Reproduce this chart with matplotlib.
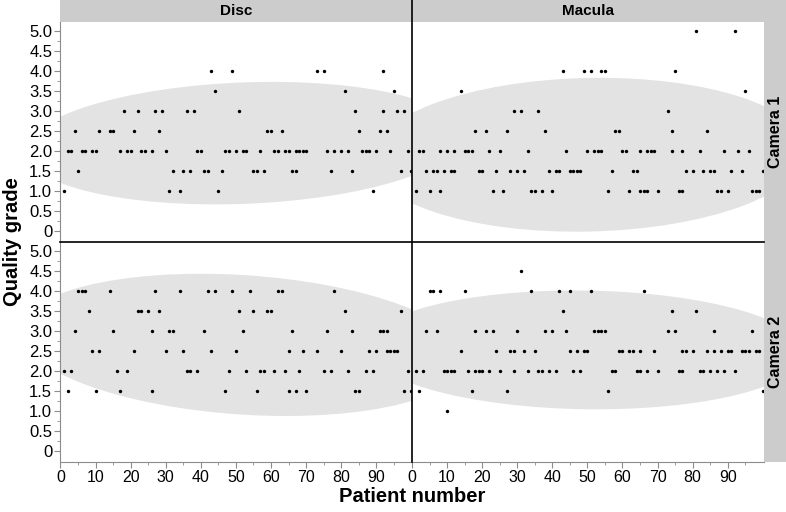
import numpy as np
import matplotlib.pyplot as plt
from matplotlib.patches import Ellipse
from matplotlib.lines import Line2D

plt.rcParams['font.family'] = ['Liberation Sans', 'DejaVu Sans']

# (patient number, quality grade)
disc_cam1 = [
    (43, 4.0), (49, 4.0), (73, 4.0), (75, 4.0), (92, 4.0),
    (44, 3.5), (81, 3.5), (95, 3.5),
    (18, 3.0), (22, 3.0), (27, 3.0), (29, 3.0), (36, 3.0), (38, 3.0), (51, 3.0),
    (84, 3.0), (92, 3.0), (96, 3.0), (98, 3.0),
    (4, 2.5), (11, 2.5), (14, 2.5), (15, 2.5), (21, 2.5), (28, 2.5), (59, 2.5),
    (60, 2.5), (63, 2.5), (85, 2.5), (91, 2.5), (93, 2.5),
    (2, 2.0), (3, 2.0), (6, 2.0), (7, 2.0), (9, 2.0), (10, 2.0), (17, 2.0), (19, 2.0),
    (20, 2.0), (23, 2.0), (24, 2.0), (26, 2.0), (30, 2.0), (39, 2.0), (40, 2.0),
    (47, 2.0), (48, 2.0), (50, 2.0), (52, 2.0), (53, 2.0), (57, 2.0), (61, 2.0),
    (62, 2.0), (64, 2.0), (65, 2.0), (67, 2.0), (68, 2.0), (69, 2.0), (70, 2.0),
    (76, 2.0), (78, 2.0), (80, 2.0), (82, 2.0), (86, 2.0), (87, 2.0), (88, 2.0),
    (90, 2.0), (94, 2.0), (99, 2.0),
    (5, 1.5), (32, 1.5), (35, 1.5), (37, 1.5), (41, 1.5), (42, 1.5), (46, 1.5),
    (55, 1.5), (56, 1.5), (58, 1.5), (66, 1.5), (67, 1.5), (77, 1.5), (83, 1.5),
    (97, 1.5), (100, 1.5),
    (1, 1.0), (31, 1.0), (34, 1.0), (45, 1.0), (89, 1.0),
]

macula_cam1 = [
    (81, 5.0), (92, 5.0),
    (43, 4.0), (49, 4.0), (51, 4.0), (54, 4.0), (55, 4.0), (75, 4.0),
    (14, 3.5), (95, 3.5),
    (29, 3.0), (31, 3.0), (36, 3.0), (73, 3.0),
    (18, 2.5), (21, 2.5), (27, 2.5), (38, 2.5), (58, 2.5), (59, 2.5), (74, 2.5), (84, 2.5),
    (2, 2.0), (3, 2.0), (8, 2.0), (10, 2.0), (12, 2.0), (15, 2.0), (16, 2.0), (17, 2.0),
    (22, 2.0), (25, 2.0), (33, 2.0), (44, 2.0), (50, 2.0), (52, 2.0), (53, 2.0),
    (54, 2.0), (60, 2.0), (61, 2.0), (65, 2.0), (67, 2.0), (68, 2.0), (69, 2.0),
    (74, 2.0), (77, 2.0), (82, 2.0), (89, 2.0), (93, 2.0), (96, 2.0),
    (4, 1.5), (6, 1.5), (7, 1.5), (9, 1.5), (11, 1.5), (12, 1.5), (19, 1.5), (20, 1.5),
    (24, 1.5), (28, 1.5), (30, 1.5), (32, 1.5), (39, 1.5), (41, 1.5), (42, 1.5),
    (45, 1.5), (46, 1.5), (47, 1.5), (48, 1.5), (57, 1.5), (63, 1.5), (64, 1.5),
    (78, 1.5), (80, 1.5), (83, 1.5), (85, 1.5), (86, 1.5), (91, 1.5), (94, 1.5), (100, 1.5),
    (1, 1.0), (5, 1.0), (8, 1.0), (23, 1.0), (26, 1.0), (34, 1.0), (35, 1.0), (37, 1.0),
    (40, 1.0), (56, 1.0), (62, 1.0), (65, 1.0), (66, 1.0), (67, 1.0), (70, 1.0),
    (76, 1.0), (77, 1.0), (87, 1.0), (88, 1.0), (90, 1.0), (97, 1.0), (98, 1.0), (99, 1.0),
]

disc_cam2 = [
    (5, 4.0), (6, 4.0), (7, 4.0), (14, 4.0), (27, 4.0), (34, 4.0), (42, 4.0), (44, 4.0),
    (49, 4.0), (54, 4.0), (62, 4.0), (63, 4.0), (78, 4.0),
    (8, 3.5), (22, 3.5), (23, 3.5), (25, 3.5), (28, 3.5), (51, 3.5), (55, 3.5),
    (59, 3.5), (60, 3.5), (81, 3.5), (97, 3.5),
    (4, 3.0), (15, 3.0), (26, 3.0), (31, 3.0), (32, 3.0), (41, 3.0), (52, 3.0),
    (66, 3.0), (76, 3.0), (83, 3.0), (91, 3.0), (92, 3.0), (93, 3.0),
    (9, 2.5), (11, 2.5), (21, 2.5), (30, 2.5), (35, 2.5), (43, 2.5), (50, 2.5),
    (65, 2.5), (69, 2.5), (73, 2.5), (80, 2.5), (88, 2.5), (90, 2.5), (93, 2.5),
    (94, 2.5), (95, 2.5), (96, 2.5),
    (1, 2.0), (3, 2.0), (16, 2.0), (19, 2.0), (36, 2.0), (37, 2.0), (39, 2.0), (48, 2.0),
    (53, 2.0), (57, 2.0), (58, 2.0), (61, 2.0), (64, 2.0), (68, 2.0), (75, 2.0),
    (77, 2.0), (82, 2.0), (87, 2.0), (89, 2.0), (99, 2.0),
    (2, 1.5), (10, 1.5), (17, 1.5), (26, 1.5), (47, 1.5), (56, 1.5), (65, 1.5),
    (67, 1.5), (70, 1.5), (84, 1.5), (85, 1.5), (98, 1.5), (100, 1.5),
]

macula_cam2 = [
    (31, 4.5),
    (5, 4.0), (6, 4.0), (8, 4.0), (15, 4.0), (34, 4.0), (42, 4.0), (45, 4.0), (51, 4.0), (66, 4.0),
    (43, 3.5), (74, 3.5), (81, 3.5),
    (4, 3.0), (7, 3.0), (18, 3.0), (21, 3.0), (23, 3.0), (30, 3.0), (38, 3.0), (40, 3.0),
    (44, 3.0), (52, 3.0), (53, 3.0), (54, 3.0), (55, 3.0), (73, 3.0), (75, 3.0),
    (86, 3.0), (97, 3.0),
    (14, 2.5), (24, 2.5), (28, 2.5), (29, 2.5), (32, 2.5), (35, 2.5), (45, 2.5),
    (47, 2.5), (49, 2.5), (50, 2.5), (59, 2.5), (60, 2.5), (62, 2.5), (63, 2.5),
    (65, 2.5), (69, 2.5), (77, 2.5), (78, 2.5), (80, 2.5), (84, 2.5), (86, 2.5),
    (88, 2.5), (90, 2.5), (91, 2.5), (94, 2.5), (95, 2.5), (96, 2.5), (98, 2.5), (99, 2.5),
    (1, 2.0), (3, 2.0), (9, 2.0), (10, 2.0), (11, 2.0), (12, 2.0), (16, 2.0), (18, 2.0),
    (19, 2.0), (20, 2.0), (22, 2.0), (25, 2.0), (29, 2.0), (33, 2.0), (36, 2.0),
    (37, 2.0), (39, 2.0), (41, 2.0), (46, 2.0), (48, 2.0), (57, 2.0), (58, 2.0),
    (64, 2.0), (65, 2.0), (67, 2.0), (70, 2.0), (76, 2.0), (77, 2.0), (82, 2.0),
    (83, 2.0), (85, 2.0), (87, 2.0), (89, 2.0), (92, 2.0),
    (2, 1.5), (17, 1.5), (27, 1.5), (56, 1.5), (100, 1.5),
    (10, 1.0),
]

col_titles = ['Disc', 'Macula']
row_titles = ['Camera 1', 'Camera 2']
panels = [[disc_cam1, macula_cam1], [disc_cam2, macula_cam2]]

y_ticks = np.arange(0, 5.01, 0.5)
y_labels = ['0'] + ['%.1f' % v for v in y_ticks[1:]]
x_ticks = np.arange(0, 91, 10)

W, H = 786, 512
fig = plt.figure(figsize=(W / 100, H / 100), dpi=100)


def px(x0, y0, x1, y1):
    # pixel box (top-left origin) -> figure fraction rect
    return [x0 / W, 1 - y1 / H, (x1 - x0) / W, (y1 - y0) / H]


def density_ellipse(ax, x, y, k=2.146):
    # 90% bivariate normal density ellipse
    cov = np.cov(x, y)
    vals, vecs = np.linalg.eigh(cov)
    ang = np.degrees(np.arctan2(vecs[1, 1], vecs[0, 1]))
    e = Ellipse((np.mean(x), np.mean(y)), 2 * k * np.sqrt(vals[1]), 2 * k * np.sqrt(vals[0]),
                angle=ang, facecolor='#e3e3e3', edgecolor='none', zorder=0)
    ax.add_patch(e)


col_x = [(60.5, 412), (412, 763.5)]
row_y = [(21.5, 241.5), (241.5, 461.5)]
grey = '#8c8c8c'

for r in range(2):
    for c in range(2):
        ax = fig.add_axes(px(col_x[c][0], row_y[r][0], col_x[c][1], row_y[r][1]))
        pts = np.array(panels[r][c], dtype=float)
        density_ellipse(ax, pts[:, 0], pts[:, 1])
        ax.scatter(pts[:, 0], pts[:, 1], s=6, color='black', linewidths=0, zorder=3)
        ax.set_xlim(0, 100.2)
        ax.set_ylim(-0.26, 5.25)
        for s in ax.spines.values():
            s.set_visible(False)
        ax.spines['left'].set_visible(c == 0)
        ax.spines['left'].set_color(grey)
        ax.spines['bottom'].set_visible(r == 1)
        ax.spines['bottom'].set_color(grey)
        ax.set_yticks(y_ticks)
        ax.set_yticks(np.arange(0, 5.01, 0.25), minor=True)
        ax.set_xticks(x_ticks)
        ax.set_xticks(np.arange(0, 96, 5), minor=True)
        ax.tick_params(which='both', color=grey, pad=2)
        ax.tick_params(axis='y', labelsize=12)
        ax.tick_params(axis='x', labelsize=11.5)
        ax.tick_params(which='major', length=4)
        ax.tick_params(which='minor', length=2)
        if c == 0:
            ax.set_yticklabels(y_labels)
        else:
            ax.tick_params(axis='y', which='both', left=False, labelleft=False)
        if r == 1:
            ax.set_xticklabels([str(v) for v in x_ticks])
        else:
            ax.tick_params(axis='x', which='both', bottom=False, labelbottom=False)

# facet strips
top = fig.add_axes(px(60.5, 0, 763.5, 21.5))
top.set_facecolor('#cccccc')
top.set_xticks([])
top.set_yticks([])
for s in top.spines.values():
    s.set_visible(False)
for c in range(2):
    fig.text((col_x[c][0] + col_x[c][1]) / 2 / W, 1 - 11 / H, col_titles[c],
             ha='center', va='center', fontsize=11, fontweight='bold')

side = fig.add_axes(px(763.5, 0, 786, 461.5))
side.set_facecolor('#cccccc')
side.set_xticks([])
side.set_yticks([])
for s in side.spines.values():
    s.set_visible(False)
for r in range(2):
    fig.text(775 / W, 1 - (row_y[r][0] + row_y[r][1]) / 2 / H, row_titles[r],
             ha='center', va='center', rotation=90, fontsize=11.5, fontweight='bold')

# panel dividers
fig.add_artist(Line2D([412 / W, 412 / W], [1, 1 - 461.5 / H], color='black', lw=1.2))
fig.add_artist(Line2D([60.5 / W, 763.5 / W], [1 - 241.5 / H, 1 - 241.5 / H], color='black', lw=1.2))

fig.text(13 / W, 1 - 241.5 / H, 'Quality grade', rotation=90, ha='center', va='center',
         fontsize=14.5, fontweight='bold')
fig.text(412 / W, 1 - 496 / H, 'Patient number', ha='center', va='center',
         fontsize=14.5, fontweight='bold')

fig.savefig('out.png', dpi=100)
